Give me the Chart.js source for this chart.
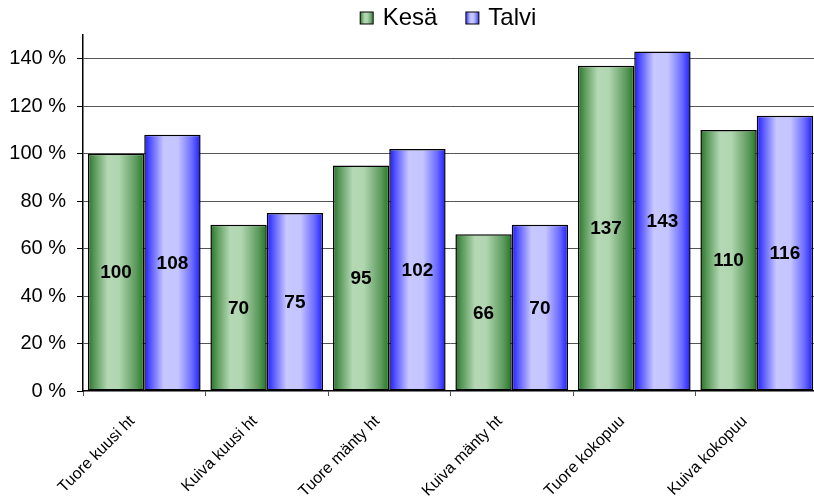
<!DOCTYPE html>
<html>
<head>
<meta charset="utf-8">
<script src="https://cdn.jsdelivr.net/npm/chart.js@4.4.1/dist/chart.umd.min.js"></script>
<style>
  html, body { margin: 0; padding: 0; overflow: hidden; background: #fff; }
  #wrap { width: 820px; height: 496px; }
</style>
</head>
<body>
<div id="wrap"><canvas id="kuivausChart" width="820" height="496"></canvas></div>
<script>
const categories = ["Tuore kuusi ht", "Kuiva kuusi ht", "Tuore mänty ht", "Kuiva mänty ht", "Tuore kokopuu", "Kuiva kokopuu"];
const kesa = [100, 70, 95, 66, 137, 110];
const talvi = [108, 75, 102, 70, 143, 116];
const yTicks = [0, 20, 40, 60, 80, 100, 120, 140];

const FONT = "'Liberation Sans', Arial, sans-serif";
const CAT_PCT = 0.92;
const LEGEND_PAD = 31;

const greenStops = [[0, "#2a722a"], [0.12, "#5a9a5a"], [0.35, "#b4d8b4"], [0.55, "#b0d6b0"], [0.85, "#5e9a5e"], [1, "#1f7a1f"]];
const blueStops = [[0, "#1c1cff"], [0.12, "#5a5aff"], [0.35, "#c8c8ff"], [0.6, "#c4c4ff"], [0.85, "#6a6aff"], [1, "#1c1cff"]];

function barGradient(ctx, stops) {
  const chart = ctx.chart;
  const xs = chart.scales.x;
  if (!xs || ctx.type !== "data") return stops[2][1];
  const c = xs.getPixelForValue(ctx.dataIndex);
  const w = xs.width / categories.length * CAT_PCT / 2;
  const left = ctx.datasetIndex === 0 ? c - w : c;
  const g = chart.ctx.createLinearGradient(left, 0, left + w, 0);
  stops.forEach(s => g.addColorStop(s[0], s[1]));
  return g;
}

function legendBox(stops) {
  const cv = document.createElement("canvas");
  cv.width = 16; cv.height = 15;
  const c = cv.getContext("2d");
  const g = c.createLinearGradient(1, 0, 15, 0);
  stops.forEach(s => g.addColorStop(s[0], s[1]));
  c.fillStyle = g;
  c.fillRect(1, 1, 14, 13);
  c.strokeStyle = "#000";
  c.lineWidth = 1;
  c.strokeRect(1.5, 1.5, 13, 12);
  return cv;
}

// value labels in the middle of each bar
const valueLabels = {
  id: "valueLabels",
  afterDatasetsDraw(chart) {
    const ctx = chart.ctx;
    ctx.save();
    ctx.font = "bold 19px " + FONT;
    ctx.fillStyle = "#000";
    ctx.textAlign = "center";
    ctx.textBaseline = "middle";
    chart.data.datasets.forEach((ds, di) => {
      chart.getDatasetMeta(di).data.forEach((bar, i) => {
        ctx.fillText(ds.data[i], bar.x, (bar.y + bar.base) / 2 + 1);
      });
    });
    ctx.restore();
  }
};

// legend: fixed height, centered over the plot area, wide item spacing
const legendPlace = {
  id: "legendPlace",
  beforeLayout(chart) {
    const lg = chart.legend;
    if (lg && !lg._fixedFit) {
      const fit = lg.fit;
      lg.fit = function () { fit.call(this); this.height = 35; };
      lg._fixedFit = true;
    }
  },
  afterLayout(chart) {
    const lg = chart.legend;
    lg.left = chart.chartArea.left - 1;
    lg.right = chart.chartArea.right - 1;
    lg.width = lg.right - lg.left;
    lg.top = 6 - LEGEND_PAD;
  }
};

const ctx = document.getElementById("kuivausChart").getContext("2d");
new Chart(ctx, {
  type: "bar",
  data: {
    labels: categories,
    datasets: [
      {
        label: "Kesä",
        data: kesa,
        backgroundColor: c => barGradient(c, greenStops),
        borderColor: "#000",
        borderWidth: 1.5,
        borderSkipped: false,
        categoryPercentage: CAT_PCT,
        barPercentage: 1
      },
      {
        label: "Talvi",
        data: talvi,
        backgroundColor: c => barGradient(c, blueStops),
        borderColor: "#000",
        borderWidth: 1.5,
        borderSkipped: false,
        categoryPercentage: CAT_PCT,
        barPercentage: 1
      }
    ]
  },
  options: {
    responsive: false,
    animation: false,
    layout: { padding: { left: 0, right: 2, top: 0, bottom: 0 } },
    plugins: {
      tooltip: { enabled: false },
      legend: {
        display: true,
        position: "top",
        labels: {
          font: { family: FONT, size: 24 },
          color: "#000",
          usePointStyle: true,
          boxWidth: 8,
          boxHeight: 15,
          padding: LEGEND_PAD,
          generateLabels(chart) {
            return [
              { text: "Kesä", pointStyle: legendBox(greenStops), datasetIndex: 0, lineWidth: 0, fontColor: "#000" },
              { text: "Talvi", pointStyle: legendBox(blueStops), datasetIndex: 1, lineWidth: 0, fontColor: "#000" }
            ];
          }
        }
      }
    },
    scales: {
      x: {
        offset: true,
        grid: {
          offset: true,
          drawOnChartArea: false,
          drawTicks: true,
          tickLength: 5,
          tickColor: "#555"
        },
        border: { display: true, color: "#000", width: 1.5 },
        ticks: {
          font: { family: FONT, size: 16 },
          color: "#000",
          minRotation: 45,
          maxRotation: 45,
          autoSkip: false,
          padding: 16,
          labelOffset: -12
        },
        afterFit(scale) { scale.height = 105; }
      },
      y: {
        min: 0,
        max: 150,
        afterBuildTicks(scale) { scale.ticks = yTicks.map(v => ({ value: v })); },
        grid: {
          color: c => (c.tick && c.tick.value > 0 && c.tick.value < 150) ? "#555" : "rgba(0,0,0,0)",
          lineWidth: 1,
          drawTicks: true,
          tickLength: 6,
          tickColor: "#000"
        },
        border: { display: true, color: "#000", width: 1.5 },
        ticks: {
          font: { family: FONT, size: 20 },
          color: "#000",
          padding: 11,
          callback: v => v + " %"
        },
        afterFit(scale) { scale.width = 83; }
      }
    }
  },
  plugins: [valueLabels, legendPlace]
});
</script>
</body>
</html>
